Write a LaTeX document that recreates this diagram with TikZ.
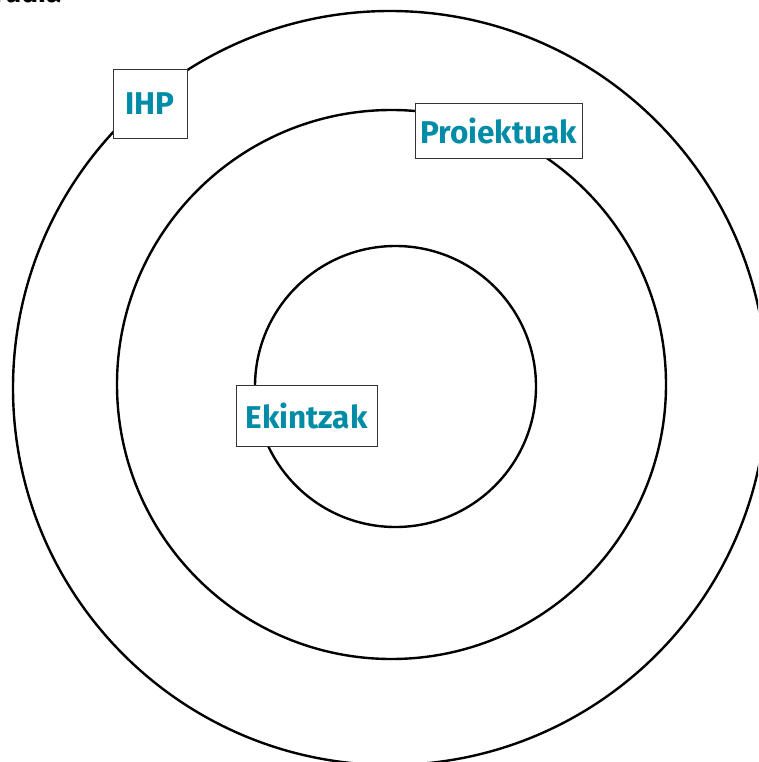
\documentclass[tikz,border=0pt]{standalone}
\usepackage{fontspec}
\setmainfont{Fira Sans}
\usepackage{xcolor}
\definecolor{labelteal}{RGB}{0,140,166}
\tikzset{
  ring/.style={line width=2.4pt, black},
  ringlabel/.style={draw=black!80, line width=0.9pt, fill=white, inner sep=0pt,
    font=\fontsize{31.5}{33}\selectfont\bfseries, text=labelteal},
}

\begin{document}
\begin{tikzpicture}[x=1pt,y=-1pt]
%% frame
\clip (0,0) rectangle (758,762);
\useasboundingbox (0,0) rectangle (758,762);
\node[anchor=base east, font=\fontsize{28}{30}\selectfont\bfseries] (title) at (65,3) {Irudia};
%% rings
\draw[ring] (390,388) circle (377pt);
\draw[ring] (391.5,384.5) circle (274.5pt);
\draw[ring] (395.5,386.5) circle (140.5pt);
%% labels
\node[ringlabel, minimum width=74pt, minimum height=69pt] (ihp) at (150,103.5) {IHP};
\node[ringlabel, minimum width=167pt, minimum height=55pt] (proiektuak) at (498.5,130.5) {Proiektuak};
\node[ringlabel, minimum width=141pt, minimum height=61pt] (ekintzak) at (306.5,415.5) {Ekintzak};
\end{tikzpicture}
\end{document}
